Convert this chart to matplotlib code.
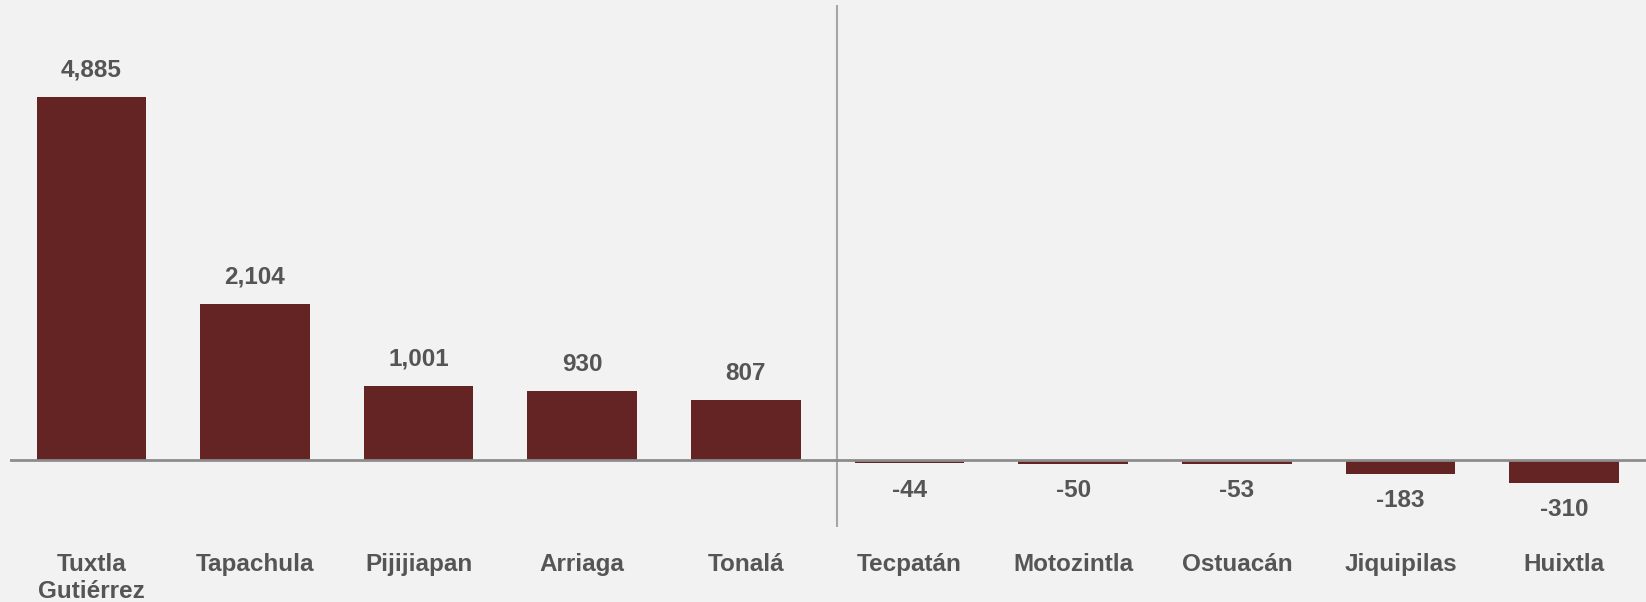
import matplotlib
matplotlib.use("Agg")
import matplotlib.pyplot as plt

# municipalities and net change
municipios = ["Tuxtla\nGutiérrez", "Tapachula", "Pijijiapan", "Arriaga", "Tonalá",
              "Tecpatán", "Motozintla", "Ostuacán", "Jiquipilas", "Huixtla"]
valores = [4885, 2104, 1001, 930, 807, -44, -50, -53, -183, -310]

bar_color = "#632423"
text_color = "#555555"
bg = "#f2f2f2"

plt.rcParams['font.family'] = ['Liberation Sans', 'DejaVu Sans']

fig = plt.figure(figsize=(16.46, 6.02), dpi=100, facecolor=bg)
ax = fig.add_axes([9.5 / 1646, 75 / 602, 1 - 9.5 / 1646, 522 / 602])
ax.set_facecolor(bg)

x = list(range(len(valores)))
ax.bar(x, valores, width=0.67, color=bar_color, zorder=2)
ax.axhline(0, color="#8c8c8c", lw=2, zorder=3)
ax.axvline(4.555, color="#a6a6a6", lw=1.5, zorder=1)

for xi, v in zip(x, valores):
    if v >= 0:
        ax.annotate(f"{v:,}", (xi, v), xytext=(0, 11), textcoords="offset points",
                    ha="center", va="bottom", fontsize=17.5, fontweight="bold", color=text_color)
    else:
        ax.annotate(f"{v:,}", (xi, v), xytext=(0, -11), textcoords="offset points",
                    ha="center", va="top", fontsize=17.5, fontweight="bold", color=text_color)

ax.set_xlim(-0.5, 9.5)
ax.set_ylim(-902, 6124)
ax.set_xticks(x)
ax.set_xticklabels(municipios, fontsize=17.5, fontweight="bold", color=text_color)
ax.tick_params(axis="x", length=0, pad=19)
ax.set_yticks([])
for s in ax.spines.values():
    s.set_visible(False)

fig.savefig("out.png", dpi=100, facecolor=bg)
